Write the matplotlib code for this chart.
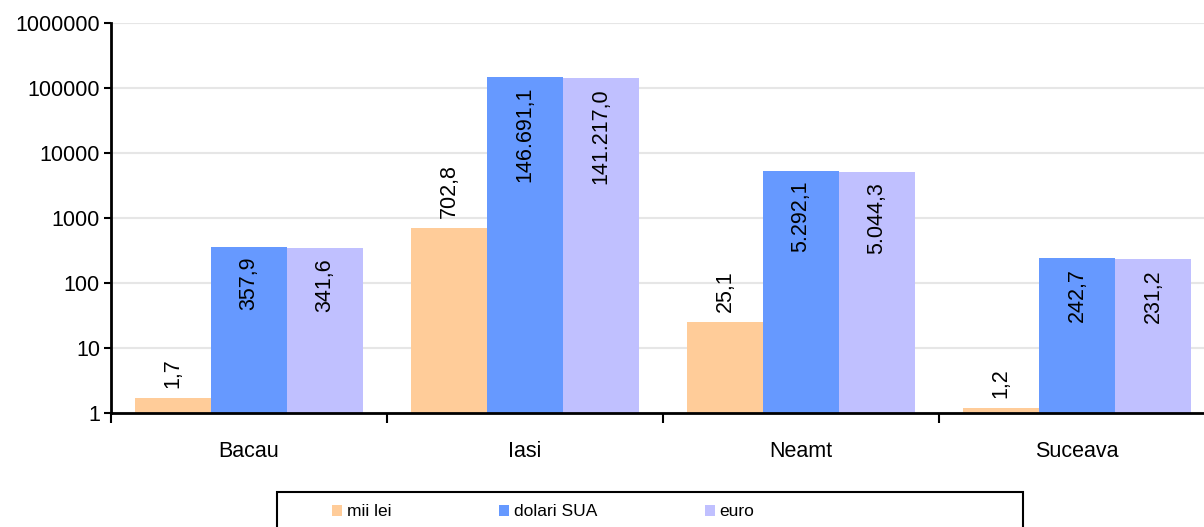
import matplotlib
matplotlib.use("Agg")
import matplotlib.pyplot as plt
import matplotlib.patches as patches
import numpy as np

plt.rcParams['font.family'] = ['Liberation Sans', 'DejaVu Sans']

# date
judete = ['Bacau', 'Iasi', 'Neamt', 'Suceava']
mii_lei = [1.7, 702.8, 25.1, 1.2]
dolari_sua = [357.9, 146691.1, 5292.1, 242.7]
euro = [341.6, 141217.0, 5044.3, 231.2]
serii = ['mii lei', 'dolari SUA', 'euro']
culori = ['#FFCC99', '#6699FF', '#C0C0FF']
yticks = [1, 10, 100, 1000, 10000, 100000, 1000000]


def fmt(v):
    s = f"{v:,.1f}"
    return s.replace(',', 'X').replace('.', ',').replace('X', '.')


fig = plt.figure(figsize=(12.04, 5.27), dpi=100)
ax = fig.add_axes([111 / 1204, 114 / 527, 1104 / 1204, 390 / 527])

x = np.arange(len(judete))
w = 0.275
valori = [mii_lei, dolari_sua, euro]
for i, (vals, nume, c) in enumerate(zip(valori, serii, culori)):
    bars = ax.bar(x + (i - 1) * w, vals, width=w, color=c, label=nume, zorder=3)
    for b, v in zip(bars, vals):
        cx = b.get_x() + b.get_width() / 2
        if i == 0:
            ax.annotate(fmt(v), (cx, v), xytext=(0, 7), textcoords='offset points',
                        rotation=90, ha='center', va='bottom', fontsize=15.5, zorder=4)
        else:
            ax.annotate(fmt(v), (cx, v), xytext=(0, -7), textcoords='offset points',
                        rotation=90, ha='center', va='top', fontsize=15.5, zorder=4)

ax.set_yscale('log')
ax.set_ylim(1, 1000000)
ax.set_xlim(-0.5, len(judete) - 0.5)
ax.set_yticks(yticks)
ax.set_yticklabels([str(t) for t in yticks], fontsize=15.5)
ax.yaxis.set_minor_locator(matplotlib.ticker.NullLocator())
ax.tick_params(axis='y', length=5, width=1.5, direction='out', pad=3)

ax.set_xticks(np.arange(len(judete) + 1) - 0.5)
ax.set_xticklabels([])
ax.set_xticks(x, minor=True)
ax.set_xticklabels(judete, minor=True, fontsize=15.5)
ax.tick_params(axis='x', which='major', length=7, width=1.5, direction='out')
ax.tick_params(axis='x', which='minor', length=0, pad=20)

ax.grid(axis='y', color='#E6E6E6', linewidth=1.5, zorder=0)
for s in ['top', 'right']:
    ax.spines[s].set_visible(False)
for s in ['left', 'bottom']:
    ax.spines[s].set_linewidth(2)
    ax.spines[s].set_zorder(5)

# chenarul legendei
fig.patches.append(patches.Rectangle((277 / 1204, -0.1), 746 / 1204, 0.1 + 35 / 527,
                                     transform=fig.transFigure, fill=False,
                                     edgecolor='black', linewidth=1.5))
fig.legend(loc='center left', bbox_to_anchor=(332 / 1204, 1 - 512 / 527),
           ncol=3, frameon=False, borderpad=0, borderaxespad=0,
           prop={'size': 12.5},
           handlelength=0.6, handleheight=0.6, handletextpad=0.25, columnspacing=6.2)

fig.savefig('out.png', dpi=100)
